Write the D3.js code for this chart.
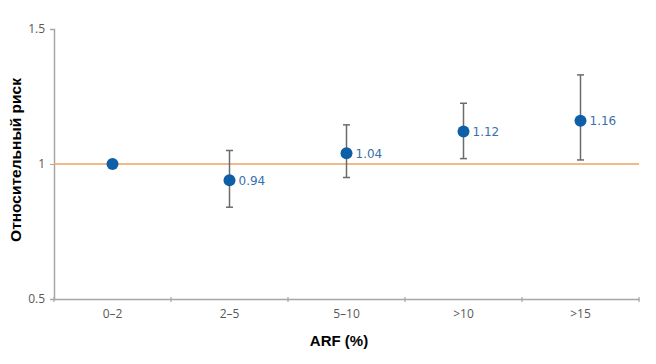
<!DOCTYPE html>
<html>
<head>
<meta charset="utf-8">
<script src="https://cdn.jsdelivr.net/npm/d3@7"></script>
<style>
  body { margin: 0; background: #fff; }
  svg { display: block; font-family: "Liberation Sans", Arial, sans-serif; }
</style>
</head>
<body>
<div id="chart"></div>
<script>
const categories = ["0\u20132", "2\u20135", "5\u201310", ">10", ">15"];
const riskValues = [1.00, 0.94, 1.04, 1.12, 1.16];
const lowerCI = [null, 0.84, 0.95, 1.02, 1.015];
const upperCI = [null, 1.05, 1.145, 1.225, 1.33];
const pointLabels = [null, "0.94", "1.04", "1.12", "1.16"];
const yTicks = [0.5, 1, 1.5];

const width = 656, height = 364;
const margin = { top: 29, right: 17, bottom: 65, left: 54 };

const data = categories.map((c, i) => ({
    cat: c,
    value: riskValues[i],
    lo: lowerCI[i],
    hi: upperCI[i],
    label: pointLabels[i]
}));

const svg = d3.select("#chart")
    .append("svg")
    .attr("width", width)
    .attr("height", height);

const x = d3.scaleBand()
    .domain(categories)
    .range([margin.left, width - margin.right]);

const y = d3.scaleLinear()
    .domain([0.5, 1.5])
    .range([height - margin.bottom, margin.top]);

// x axis
const xAxis = svg.append("g")
    .attr("transform", `translate(0, ${y(0.5)})`)
    .call(d3.axisBottom(x).tickSize(0).tickPadding(10));
xAxis.select(".domain").attr("stroke", "#a6a6a6").attr("stroke-width", 1.5);
xAxis.selectAll("text").attr("fill", "#595959").attr("font-size", "12px")
    .attr("font-family", "Open Sans, sans-serif");

// band boundary ticks
const bounds = categories.map(c => x(c)).concat([x.range()[1]]);
svg.append("g")
    .selectAll("line")
    .data(bounds)
    .join("line")
    .attr("x1", d => d).attr("x2", d => d)
    .attr("y1", y(0.5) - 2).attr("y2", y(0.5) + 3)
    .attr("stroke", "#a6a6a6")
    .attr("stroke-width", 1.2);

// y axis
const yAxis = svg.append("g")
    .attr("transform", `translate(${margin.left}, 0)`)
    .call(d3.axisLeft(y).tickValues(yTicks).tickFormat(d3.format("")).tickSize(4).tickPadding(5));
yAxis.select(".domain").attr("stroke", "#a6a6a6").attr("stroke-width", 1.5);
yAxis.selectAll(".tick line").attr("stroke", "#a6a6a6");
yAxis.selectAll("text").attr("fill", "#595959").attr("font-size", "12px")
    .attr("font-family", "Open Sans, sans-serif");

// reference line at 1
svg.append("line")
    .attr("x1", margin.left)
    .attr("x2", width - margin.right)
    .attr("y1", y(1))
    .attr("y2", y(1))
    .attr("stroke", "#f2a15f")
    .attr("stroke-width", 1.5);

// error bars
const ci = data.filter(d => d.lo !== null);
const cx = d => x(d.cat) + x.bandwidth() / 2;
const bars = svg.append("g").attr("stroke", "#6b6b6b").attr("stroke-width", 1.5);
bars.selectAll(".stem")
    .data(ci)
    .join("line")
    .attr("class", "stem")
    .attr("x1", cx).attr("x2", cx)
    .attr("y1", d => y(d.lo)).attr("y2", d => y(d.hi));
bars.selectAll(".cap-hi")
    .data(ci)
    .join("line")
    .attr("class", "cap-hi")
    .attr("x1", d => cx(d) - 3.5).attr("x2", d => cx(d) + 3.5)
    .attr("y1", d => y(d.hi)).attr("y2", d => y(d.hi));
bars.selectAll(".cap-lo")
    .data(ci)
    .join("line")
    .attr("class", "cap-lo")
    .attr("x1", d => cx(d) - 3.5).attr("x2", d => cx(d) + 3.5)
    .attr("y1", d => y(d.lo)).attr("y2", d => y(d.lo));

// points
svg.append("g")
    .selectAll("circle")
    .data(data)
    .join("circle")
    .attr("cx", cx)
    .attr("cy", d => y(d.value))
    .attr("r", 6)
    .attr("fill", "#0f5fa8");

// labels
svg.append("g")
    .selectAll("text")
    .data(data.filter(d => d.label))
    .join("text")
    .attr("x", d => cx(d) + 9)
    .attr("y", d => y(d.value))
    .attr("dy", "0.36em")
    .attr("fill", "#3a6fad")
    .attr("font-size", "12px")
    .attr("font-family", "DejaVu Sans, sans-serif")
    .text(d => d.label);

// axis titles
svg.append("text")
    .attr("transform", `translate(21, ${(y(0.5) + y(1.5)) / 2 - 4}) rotate(-90)`)
    .attr("text-anchor", "middle")
    .attr("font-size", "15.5px")
    .attr("font-weight", "bold")
    .attr("fill", "#000")
    .text("Относительный риск");

svg.append("text")
    .attr("x", 339)
    .attr("y", 346)
    .attr("text-anchor", "middle")
    .attr("font-size", "15px")
    .attr("font-weight", "bold")
    .attr("fill", "#000")
    .text("ARF (%)");
</script>
</body>
</html>
